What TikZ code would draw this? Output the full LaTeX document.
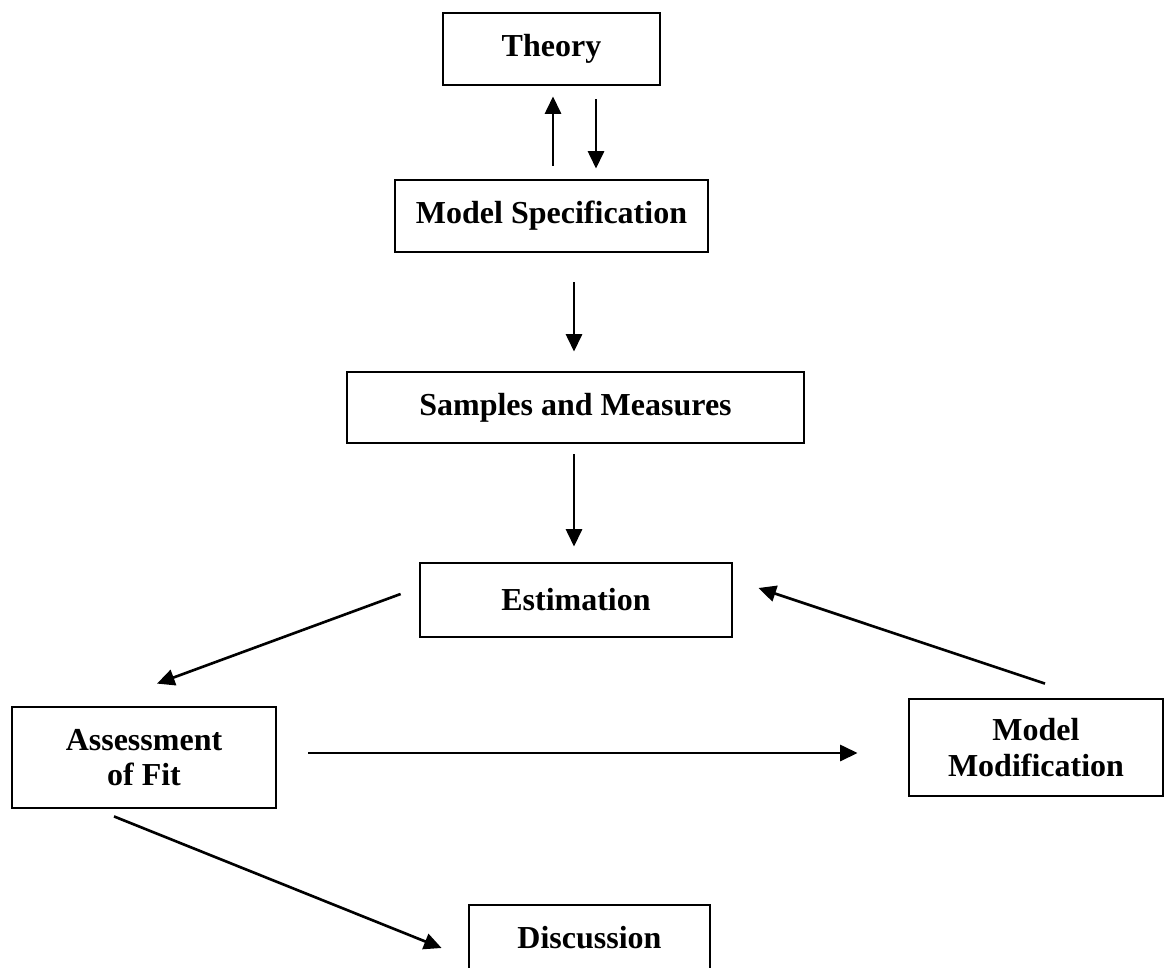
\documentclass[tikz,border=0pt]{standalone}
\usepackage{fontspec}
\setmainfont{Liberation Serif}
\usetikzlibrary{arrows.meta,positioning,calc}

\begin{document}
\begin{tikzpicture}[
  x=0.01cm,y=-0.01cm,
  font=\fontsize{9.1}{10}\selectfont\bfseries,
  box/.style={draw,line width=0.8pt,inner sep=0pt,align=center},
  ar/.style={-{Triangle[length=5pt,width=4.6pt]},line width=0.75pt},
]
\useasboundingbox (0,0) rectangle (1165,967);

\node[box,minimum width=217*0.01cm,minimum height=72*0.01cm] (theory) at (551.5,49) {Theory};
\node[box,minimum width=313*0.01cm,minimum height=72*0.01cm] (spec) at (551.5,216) {Model Specification};
\node[box,minimum width=457*0.01cm,minimum height=71*0.01cm] (samples) at (575.5,407.5) {Samples and Measures};
\node[box,minimum width=312*0.01cm,minimum height=74*0.01cm] (estim) at (576,600) {Estimation};
\node[box,minimum width=264*0.01cm,minimum height=101*0.01cm] (assess) at (144,757.5) {Assessment\\of Fit};
\node[box,minimum width=254*0.01cm,minimum height=97*0.01cm] (modif) at (1036,747.5) {Model\\Modification};
\node[box,minimum width=241*0.01cm,minimum height=66*0.01cm] (discuss) at (589.5,938) {Discussion};

\draw[ar] ([shift={(1.5,-13)}]spec.north) -- ([shift={(1.5,10)}]theory.south);
\draw[ar] ([shift={(44.5,13)}]theory.south) -- ([shift={(44.5,-10)}]spec.north);
\draw[ar] ([shift={(22.5,29)}]spec.south) -- ([shift={(-1.5,-19)}]samples.north);
\draw[ar] ([shift={(-1.5,10)}]samples.south) -- ([shift={(-2,-15)}]estim.north);
\draw[ar] ([shift={(-18,-6)}]estim.west) -- ([shift={(13,-22)}]assess.north);
\draw[ar] ([shift={(9,-14)}]modif.north) -- ([shift={(25,-12)}]estim.east);
\draw[ar] ([shift={(31,-4.5)}]assess.east) -- ([shift={(-50,5.5)}]modif.west);
\draw[ar] ([shift={(-30,7)}]assess.south) -- ([shift={(-26,10)}]discuss.west);
\end{tikzpicture}
\end{document}
